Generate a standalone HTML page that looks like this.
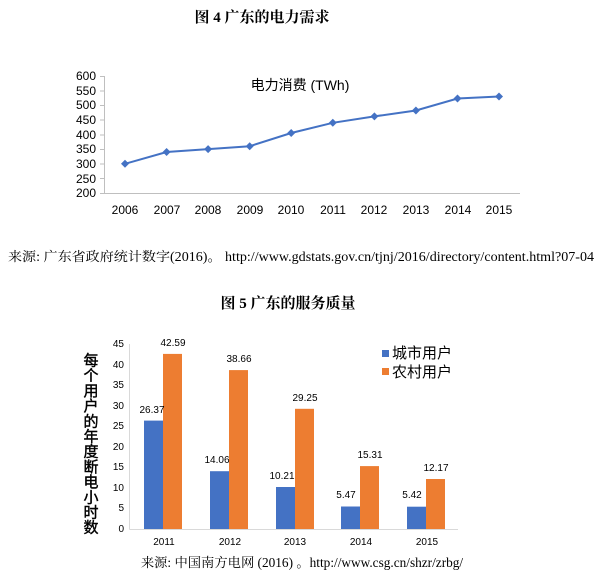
<!DOCTYPE html>
<html><head><meta charset="utf-8"><style>
body{margin:0;background:#fff;}
svg{display:block;}
.s{font-family:"Liberation Serif","Noto Serif CJK SC",serif;}
.a{font-family:"Liberation Sans","Noto Sans CJK SC",sans-serif;}
</style></head><body>
<svg width="601" height="582" viewBox="0 0 601 582" xmlns="http://www.w3.org/2000/svg">
<text class="s" x="262" y="22" font-size="15" font-weight="bold" text-anchor="middle">图 4 广东的电力需求</text>
<g class="a" font-size="12" fill="#000">
<g text-anchor="end">
<text x="96" y="80">600</text><text x="96" y="95">550</text><text x="96" y="109">500</text><text x="96" y="124">450</text><text x="96" y="139">400</text><text x="96" y="153">350</text><text x="96" y="168">300</text><text x="96" y="183">250</text><text x="96" y="197">200</text>
</g>
<text x="300" y="90" font-size="14" text-anchor="middle">电力消费 (TWh)</text>
<g text-anchor="middle">
<text x="125" y="214">2006</text><text x="167" y="214">2007</text><text x="208" y="214">2008</text><text x="250" y="214">2009</text><text x="291" y="214">2010</text><text x="333" y="214">2011</text><text x="374" y="214">2012</text><text x="416" y="214">2013</text><text x="458" y="214">2014</text><text x="499" y="214">2015</text>
</g>
</g>
<g stroke="#bfbfbf" stroke-width="1">
<line x1="104.5" y1="76" x2="104.5" y2="193.5"/>
<line x1="100" y1="76.5" x2="104.5" y2="76.5"/><line x1="100" y1="91" x2="104.5" y2="91"/><line x1="100" y1="105.5" x2="104.5" y2="105.5"/><line x1="100" y1="120" x2="104.5" y2="120"/><line x1="100" y1="135" x2="104.5" y2="135"/><line x1="100" y1="149.5" x2="104.5" y2="149.5"/><line x1="100" y1="164" x2="104.5" y2="164"/><line x1="100" y1="178.5" x2="104.5" y2="178.5"/>
<line x1="100" y1="193.5" x2="520" y2="193.5"/>
</g>
<polyline fill="none" stroke="#4472c4" stroke-width="2" points="125,163.8 166.6,152 208.1,149.1 249.7,146.2 291.2,133 332.8,122.8 374.4,116.4 415.9,110.5 457.5,98.5 499,96.5"/>
<g fill="#4472c4">
<path d="M125 159.8l4 4-4 4-4-4z"/><path d="M166.6 148l4 4-4 4-4-4z"/><path d="M208.1 145.1l4 4-4 4-4-4z"/><path d="M249.7 142.2l4 4-4 4-4-4z"/><path d="M291.2 129l4 4-4 4-4-4z"/><path d="M332.8 118.8l4 4-4 4-4-4z"/><path d="M374.4 112.4l4 4-4 4-4-4z"/><path d="M415.9 106.5l4 4-4 4-4-4z"/><path d="M457.5 94.5l4 4-4 4-4-4z"/><path d="M499 92.5l4 4-4 4-4-4z"/>
</g>
<text class="s" x="8" y="261" font-size="13.3" textLength="586" lengthAdjust="spacingAndGlyphs">来源: 广东省政府统计数字(2016)。 http://www.gdstats.gov.cn/tjnj/2016/directory/content.html?07-04</text>
<text class="s" x="288" y="308" font-size="15" font-weight="bold" text-anchor="middle">图 5 广东的服务质量</text>

<g stroke="#d9d9d9" stroke-width="1">
<line x1="129.5" y1="344" x2="129.5" y2="529.5"/>
<line x1="129.5" y1="529.5" x2="458" y2="529.5"/>
</g>
<g class="a" font-size="10" text-anchor="end">
<text x="124" y="347">45</text><text x="124" y="368">40</text><text x="124" y="388">35</text><text x="124" y="409">30</text><text x="124" y="429">25</text><text x="124" y="450">20</text><text x="124" y="470">15</text><text x="124" y="491">10</text><text x="124" y="511">5</text><text x="124" y="532">0</text>
</g>
<g fill="#4472c4">
<rect x="144" y="420.6" width="19" height="108.4"/><rect x="210" y="471.2" width="19" height="57.8"/><rect x="276" y="487" width="19" height="42"/><rect x="341" y="506.5" width="19" height="22.5"/><rect x="407" y="506.7" width="19" height="22.3"/>
</g>
<g fill="#ed7d31">
<rect x="163" y="353.9" width="19" height="175.1"/><rect x="229" y="370.1" width="19" height="158.9"/><rect x="295" y="408.8" width="19" height="120.2"/><rect x="360" y="466.1" width="19" height="62.9"/><rect x="426" y="479" width="19" height="50"/>
</g>
<g class="a" font-size="10" text-anchor="middle">
<text x="152" y="413">26.37</text><text x="173" y="346">42.59</text>
<text x="217" y="463">14.06</text><text x="239" y="362">38.66</text>
<text x="282" y="479">10.21</text><text x="305" y="401">29.25</text>
<text x="346" y="498">5.47</text><text x="370" y="458">15.31</text>
<text x="412" y="498">5.42</text><text x="436" y="471">12.17</text>
<text x="164" y="545">2011</text><text x="230" y="545">2012</text><text x="295" y="545">2013</text><text x="361" y="545">2014</text><text x="427" y="545">2015</text>
</g>
<rect x="382" y="350" width="7" height="7" fill="#4472c4"/>
<rect x="382" y="368" width="7" height="7" fill="#ed7d31"/>
<g class="a" font-size="15">
<text x="392" y="358">城市用户</text><text x="392" y="377">农村用户</text>
</g>
<g class="a" font-size="15" text-anchor="middle" stroke="#000" stroke-width="0.4">
<text x="91" y="365.5">每</text><text x="91" y="380.7">个</text><text x="91" y="395.9">用</text><text x="91" y="411.1">户</text><text x="91" y="426.3">的</text><text x="91" y="441.5">年</text><text x="91" y="456.7">度</text><text x="91" y="471.9">断</text><text x="91" y="487.1">电</text><text x="91" y="502.3">小</text><text x="91" y="517.5">时</text><text x="91" y="532.7">数</text>
</g>
<text class="s" x="302" y="567" font-size="13.3" text-anchor="middle">来源: 中国南方电网 (2016) 。http://www.csg.cn/shzr/zrbg/</text>
</svg>
</body></html>
